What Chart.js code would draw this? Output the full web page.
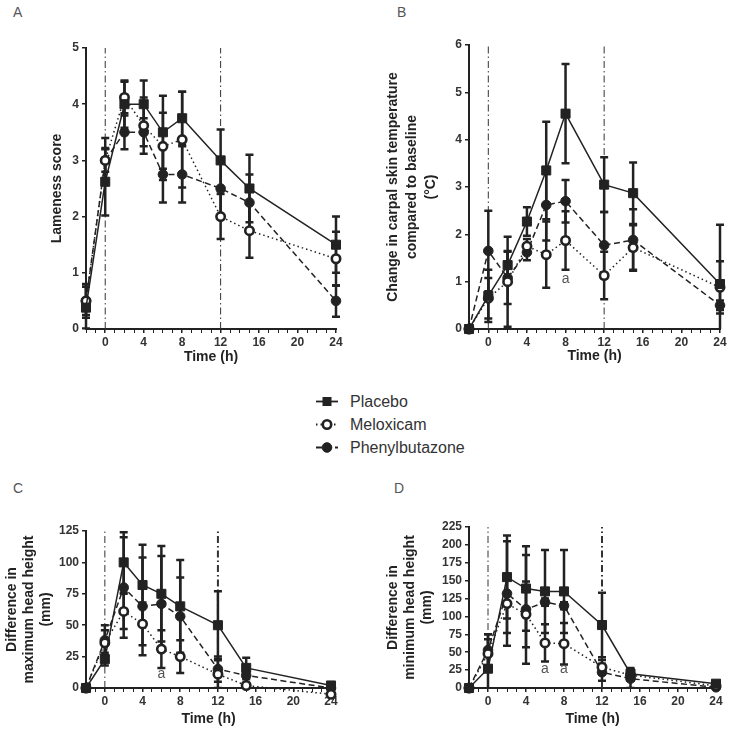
<!DOCTYPE html>
<html>
<head>
<meta charset="utf-8">
<script src="https://cdn.jsdelivr.net/npm/chart.js@4.4.1/dist/chart.umd.min.js"></script>
<style>
body { margin: 0; background: #fff; width: 731px; height: 732px; position: relative; overflow: hidden; font-family: "Liberation Sans", Arial, sans-serif; }
canvas { position: absolute; }
.panel-label { position: absolute; font-size: 14px; color: #555; line-height: 1; }
#legend { position: absolute; left: 314px; top: 390px; }
.legend-row { display: flex; align-items: center; height: 23px; font-size: 16px; color: #333; }
.legend-row svg { margin-right: 6px; }
</style>
</head>
<body>
<div class="panel-label" style="left:13px;top:5px">A</div>
<div class="panel-label" style="left:397px;top:5px">B</div>
<div class="panel-label" style="left:13px;top:481px">C</div>
<div class="panel-label" style="left:394px;top:481px">D</div>
<canvas id="chartA" width="365" height="370" style="left:0;top:0"></canvas>
<canvas id="chartB" width="366" height="370" style="left:365px;top:0"></canvas>
<canvas id="chartC" width="365" height="232" style="left:0;top:500px"></canvas>
<canvas id="chartD" width="366" height="232" style="left:365px;top:500px"></canvas>
<div id="legend"></div>
<script>
// Zeitpunkte (h)
const timeH = [-2, 0, 2, 4, 6, 8, 12, 15, 24];
const seriesNames = ["Placebo", "Meloxicam", "Phenylbutazone"];

// A: Lameness score (Mittelwert / SD)
const lamenessPlacebo = [0.38, 2.62, 4.0, 4.0, 3.5, 3.75, 3.0, 2.5, 1.5];
const lamenessPlaceboSD = [0.37, 0.6, 0.42, 0.42, 0.65, 0.47, 0.55, 0.6, 0.5];
const lamenessMeloxicam = [0.5, 3.0, 4.12, 3.62, 3.25, 3.37, 2.0, 1.75, 1.25];
const lamenessMeloxicamSD = [0.25, 0.4, 0.28, 0.5, 0.6, 0.85, 0.4, 0.48, 0.48];
const lamenessPhenyl = [0.5, 3.0, 3.5, 3.5, 2.75, 2.75, 2.5, 2.25, 0.5];
const lamenessPhenylSD = [0.3, 0.2, 0.3, 0.25, 0.5, 0.5, 0.5, 0.5, 0.28];

// B: Hauttemperatur
const tempPlacebo = [0, 0.7, 1.35, 2.27, 3.35, 4.55, 3.05, 2.87, 0.95];
const tempPlaceboSD = [0, 0.55, 0.3, 0.3, 1.03, 1.05, 0.58, 0.65, 1.25];
const tempMeloxicam = [0, 0.65, 1.0, 1.75, 1.57, 1.87, 1.13, 1.72, 0.88];
const tempMeloxicamSD = [0, 0.43, 0.95, 0.15, 0.7, 0.62, 0.5, 0.47, 0.55];
const tempPhenyl = [0, 1.65, 1.08, 1.62, 2.62, 2.7, 1.77, 1.88, 0.5];
const tempPhenylSD = [0, 0.85, 0.55, 0.17, 0.75, 0.45, 0.7, 0.65, 0.1];

// C: maximale Kopfhöhe
const maxPlacebo = [0, 23, 100, 82, 75, 65, 50, 16, 2];
const maxPlaceboSD = [0, 5, 24, 32, 38, 37, 27, 8, 2];
const maxMeloxicam = [0, 36, 61, 51, 31, 25, 11, 2, -5];
const maxMeloxicamSD = [0, 10, 14, 17, 15, 13, 11, 5, 3];
const maxPhenyl = [0, 38, 80, 65, 67, 57, 15, 10, 0];
const maxPhenylSD = [0, 12, 40, 39, 38, 31, 10, 6, 1];

// D: minimale Kopfhöhe
const minPlacebo = [0, 27, 155, 139, 135, 135, 88, 20, 6];
const minPlaceboSD = [0, 48, 58, 59, 58, 58, 45, 8, 2];
const minMeloxicam = [0, 48, 118, 103, 63, 62, 29, 18, 3];
const minMeloxicamSD = [0, 20, 41, 46, 26, 29, 10, 8, 2];
const minPhenyl = [0, 53, 132, 110, 120, 115, 22, 13, 1];
const minPhenylSD = [0, 22, 73, 76, 5, 5, 12, 13, 1];

// Signifikanz-Markierungen "a" (Zeit, Wert)
const notesB = [[8, 1.05]];
const notesC = [[6, 11]];
const notesD = [[6, 26], [8, 26]];

const treatmentLines = [0, 12];

const ink = "#222";
const seriesStyle = [
    { dash: [], point: "rect", radius: 6.4, fill: ink, border: 1 },
    { dash: [1.5, 3], point: "circle", radius: 4.2, fill: "#fff", border: 2.6 },
    { dash: [6, 3.5], point: "circle", radius: 4.8, fill: ink, border: 1 }
];

// Fehlerbalken, Linien bei 0 h / 12 h und Markierungen
const panelMarks = {
    id: "panelMarks",
    beforeDatasetsDraw(chart, args, opts) {
        const { ctx, chartArea: a, scales: { x, y } } = chart;
        ctx.save();
        ctx.strokeStyle = "#333";
        ctx.setLineDash([7, 3, 1.5, 3]);
        treatmentLines.forEach((t, i) => {
            ctx.lineWidth = opts.vwidths[i];
            const px = x.getPixelForValue(t);
            ctx.beginPath();
            ctx.moveTo(px, a.bottom);
            ctx.lineTo(px, a.top);
            ctx.stroke();
        });
        ctx.setLineDash([]);
        ctx.beginPath();
        ctx.rect(a.left - 10, a.top - 10, a.right - a.left + 20, a.bottom - a.top + 10);
        ctx.clip();
        ctx.strokeStyle = ink;
        ctx.lineWidth = 2.5;
        chart.data.datasets.forEach(ds => {
            ds.data.forEach((p, j) => {
                const e = ds.sd[j];
                if (!e) return;
                const px = x.getPixelForValue(p.x);
                const top = y.getPixelForValue(p.y + e);
                const bot = y.getPixelForValue(p.y - e);
                ctx.beginPath();
                ctx.moveTo(px, top); ctx.lineTo(px, bot);
                ctx.moveTo(px - 4, top); ctx.lineTo(px + 4, top);
                ctx.moveTo(px - 4, bot); ctx.lineTo(px + 4, bot);
                ctx.stroke();
            });
        });
        ctx.restore();
    },
    afterDatasetsDraw(chart, args, opts) {
        const { ctx, scales: { x, y } } = chart;
        ctx.save();
        ctx.font = "14px 'Liberation Sans', Arial, sans-serif";
        ctx.fillStyle = "#555";
        ctx.textAlign = "center";
        ctx.textBaseline = "middle";
        (opts.notes || []).forEach(n => {
            ctx.fillText("a", x.getPixelForValue(n[0]), y.getPixelForValue(n[1]));
        });
        ctx.restore();
    }
};

function makeDatasets(values, sds) {
    return values.map((vals, i) => ({
        label: seriesNames[i],
        data: timeH.map((t, j) => ({ x: t, y: vals[j] })),
        sd: sds[i],
        borderColor: ink,
        borderWidth: 1.5,
        borderDash: seriesStyle[i].dash,
        tension: 0,
        pointStyle: seriesStyle[i].point,
        pointRadius: seriesStyle[i].radius,
        pointBackgroundColor: seriesStyle[i].fill,
        pointBorderColor: ink,
        pointBorderWidth: seriesStyle[i].border,
        clip: false
    }));
}

function makePanel(id, p) {
    const tickFont = { family: "'Liberation Sans', Arial, sans-serif", size: 12, weight: "bold" };
    const titleFont = { family: "'Liberation Sans', Arial, sans-serif", size: 14, weight: "bold", lineHeight: p.titleLine };
    new Chart(document.getElementById(id), {
        type: "line",
        data: { datasets: makeDatasets(p.values, p.sds) },
        options: {
            responsive: false,
            animation: false,
            layout: { padding: p.padding },
            plugins: {
                legend: { display: false },
                tooltip: { enabled: false },
                panelMarks: { vwidths: p.vwidths, notes: p.notes }
            },
            scales: {
                x: {
                    type: "linear",
                    min: -2,
                    max: 24,
                    afterFit: s => { s.height = p.xHeight; },
                    border: { display: true, color: ink, width: 2 },
                    grid: { drawOnChartArea: false, drawTicks: true, tickLength: 4, color: ink,
                            lineWidth: c => (c.tick && c.tick.value % 4 === 0 ? 1.5 : 1) },
                    ticks: {
                        stepSize: 1, autoSkip: false, maxRotation: 0, padding: 2,
                        color: "#333", font: tickFont,
                        callback: v => (v % 4 === 0 ? v : "")
                    },
                    title: { display: true, text: "Time (h)", color: ink, font: titleFont, padding: { top: 2, bottom: 4 } }
                },
                y: {
                    min: 0,
                    max: p.yMax,
                    afterFit: s => { s.width = p.yWidth; },
                    border: { display: true, color: ink, width: 2 },
                    grid: { drawOnChartArea: false, drawTicks: true, tickLength: 4, color: ink, lineWidth: 1.5 },
                    ticks: { stepSize: p.yStep, padding: 3, color: "#333", font: tickFont },
                    title: { display: true, text: p.yTitle, color: ink, font: titleFont, padding: { top: 4, bottom: 0 } }
                }
            }
        },
        plugins: [panelMarks]
    });
}

makePanel("chartA", {
    values: [lamenessPlacebo, lamenessMeloxicam, lamenessPhenyl],
    sds: [lamenessPlaceboSD, lamenessMeloxicamSD, lamenessPhenylSD],
    yMax: 5, yStep: 1, yTitle: "Lameness score", titleLine: 1.2,
    padding: { left: 45, top: 48, right: 29, bottom: 0 }, yWidth: 41, xHeight: 41,
    vwidths: [1, 1], notes: []
});
makePanel("chartB", {
    values: [tempPlacebo, tempMeloxicam, tempPhenyl],
    sds: [tempPlaceboSD, tempMeloxicamSD, tempPhenylSD],
    yMax: 6, yStep: 1, titleLine: 1.35,
    yTitle: ["Change in carpal skin temperature", "compared to baseline", "(°C)"],
    padding: { left: 15, top: 45, right: 11, bottom: 0 }, yWidth: 89, xHeight: 41,
    vwidths: [1, 1], notes: notesB
});
makePanel("chartC", {
    values: [maxPlacebo, maxMeloxicam, maxPhenyl],
    sds: [maxPlaceboSD, maxMeloxicamSD, maxPhenylSD],
    yMax: 125, yStep: 25, titleLine: 1.2,
    yTitle: ["Difference in", "maximum head height", "(mm)"],
    padding: { left: 0, top: 31, right: 34, bottom: 0 }, yWidth: 86, xHeight: 44,
    vwidths: [1, 2], notes: notesC
});
makePanel("chartD", {
    values: [minPlacebo, minMeloxicam, minPhenyl],
    sds: [minPlaceboSD, minMeloxicamSD, minPhenylSD],
    yMax: 225, yStep: 25, titleLine: 1.2,
    yTitle: ["Difference in", "minimum head height", "(mm)"],
    padding: { left: 16, top: 27, right: 15, bottom: 0 }, yWidth: 88, xHeight: 44,
    vwidths: [1, 2], notes: notesD
});

// Legende
const legend = document.getElementById("legend");
seriesNames.forEach((name, i) => {
    const st = seriesStyle[i];
    const dash = st.dash.length ? `stroke-dasharray="${st.dash.join(" ")}"` : "";
    let marker;
    if (st.point === "rect") {
        marker = `<rect x="8.5" y="7" width="9" height="9" fill="${ink}"/>`;
    } else {
        marker = `<circle cx="13" cy="11.5" r="${st.radius}" fill="${st.fill}" stroke="${ink}" stroke-width="${st.border}"/>`;
    }
    const row = document.createElement("div");
    row.className = "legend-row";
    row.innerHTML = `<svg width="30" height="23"><line x1="2" y1="11.5" x2="24" y2="11.5" stroke="${ink}" stroke-width="1.8" ${dash}/>${marker}</svg><span>${name}</span>`;
    legend.appendChild(row);
});
</script>
</body>
</html>
